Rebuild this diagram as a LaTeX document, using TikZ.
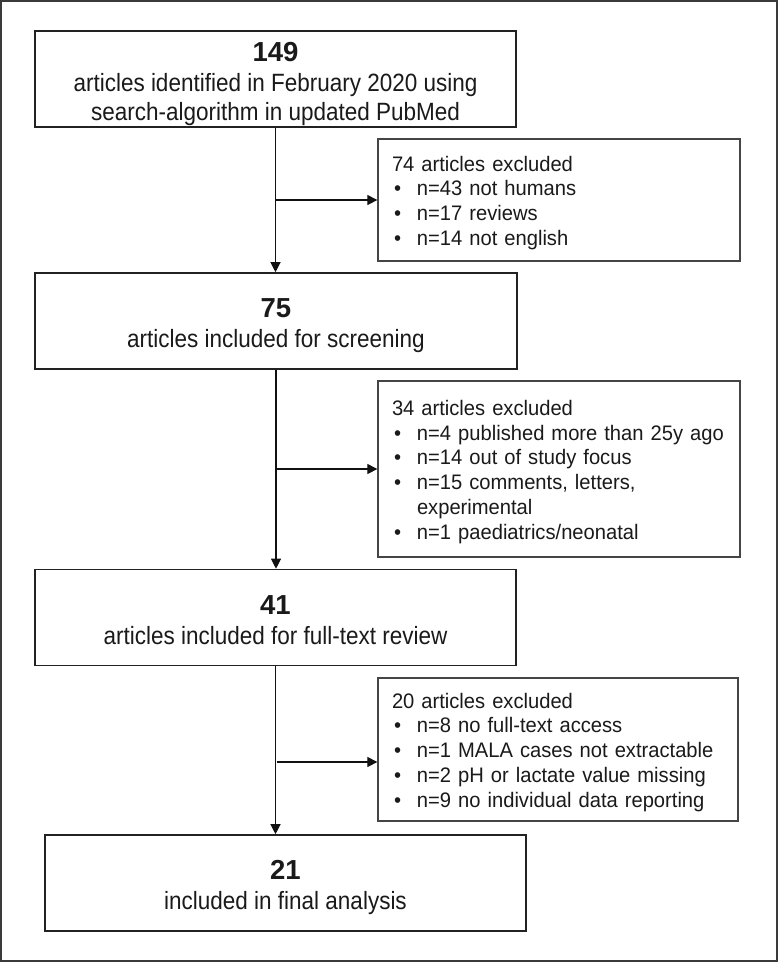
\documentclass[tikz,border=0pt]{standalone}
\usepackage{fontspec}
\setmainfont{Liberation Sans}
\newfontfamily\boxfont[FakeStretch=0.9]{Liberation Sans}
\newfontfamily\exfont[FakeStretch=0.96]{Liberation Sans}
\usetikzlibrary{
  positioning,
  arrows.meta,
  calc,
}
\definecolor{border}{HTML}{222222}
\definecolor{frameCol}{HTML}{3A3A3A}
\definecolor{exBorder}{HTML}{454545}
\definecolor{arrowCol}{HTML}{111111}
\definecolor{textMain}{HTML}{1A1A1A}
\newcommand{\bigcount}[1]{{\fontsize{27.5}{30}\selectfont\rmfamily\bfseries\rule{0pt}{29.7pt}#1}}
\newcommand{\lastline}[1]{#1\rule[-6pt]{0pt}{0pt}}
\newcommand{\exhead}[1]{\rule{0pt}{20.8pt}#1}
\newcommand{\exitem}[1]{\makebox[25pt][l]{\hspace{2pt}\textbullet}#1}
\tikzset{
  mainbox/.style={
    rectangle, draw=border, fill=white, line width=1.6pt,
    minimum width=481pt, minimum height=96pt, align=center,
    font=\boxfont\fontsize{25}{28.5}\selectfont, text=textMain, inner sep=0pt,
  },
  exbox/.style={
    rectangle, draw=exBorder, fill=white, line width=1.3pt,
    text width=334pt, align=left, inner xsep=14pt, inner ysep=0pt,
    font=\exfont\fontsize{21}{24.8}\selectfont, text=textMain,
  },
  arrow/.style={-{Triangle[length=10pt,width=10pt]}, arrowCol, line width=1.2pt},
  outerframe/.style={rectangle, draw=frameCol, line width=2pt, inner sep=0pt},
}

\begin{document}
\begin{tikzpicture}[x=1pt, y=-1pt]

  \useasboundingbox (0,0) rectangle (778,962);
  \node[outerframe, minimum width=776pt, minimum height=960pt] (frame) at (389,481) {};

  % Main column
  \node[mainbox] (n149) at (275.5, 79) {\bigcount{149}\\[1.5pt]articles identified in February 2020 using\\\lastline{search-algorithm in updated PubMed}};
  \node[mainbox, minimum width=482pt] (n75) at (276, 321) {\bigcount{75}\\[1.5pt]\lastline{articles included for screening}};
  \node[mainbox] (n41) at (275.5, 617.5) {\bigcount{41}\\[1.5pt]\lastline{articles included for full-text review}};
  \node[mainbox] (n21) at (285.5, 883) {\bigcount{21}\\[1.5pt]\lastline{included in final analysis}};

  % Exclusion boxes
  \node[exbox, minimum height=122pt] (ex74) at (559, 200) {\exhead{74 articles excluded}\\
    \exitem{n=43 not humans}\\
    \exitem{n=17 reviews}\\
    \exitem{n=14 not english}};
  \node[exbox, minimum height=176pt] (ex34) at (559, 469) {\exhead{34 articles excluded}\\
    \exitem{n=4 published more than 25y ago}\\
    \exitem{n=14 out of study focus}\\
    \exitem{n=15 comments, letters,}\\
    \hspace*{25pt}experimental\\
    \exitem{n=1 paediatrics/neonatal}};
  \node[exbox, text width=332pt, minimum height=143pt] (ex20) at (558, 749.5) {\exhead{20 articles excluded}\\
    \exitem{n=8 no full-text access}\\
    \exitem{n=1 MALA cases not extractable}\\
    \exitem{n=2 pH or lactate value missing}\\
    \exitem{n=9 no individual data reporting}};

  \coordinate (j20) at (276.5, 762);

  \draw[arrow] (n149.south) -- (n149.south |- n75.north);
  \draw[arrow] (n75.south) -- (n75.south |- n41.north);
  \draw[arrow] (n41.south) -- (n41.south |- n21.north);

  \draw[arrow] (n149.south |- ex74.west) -- (ex74.west);
  \draw[arrow] (n75.south |- ex34.west) -- (ex34.west);
  \draw[arrow] (j20) -- (j20 -| ex20.west);

\end{tikzpicture}
\end{document}
